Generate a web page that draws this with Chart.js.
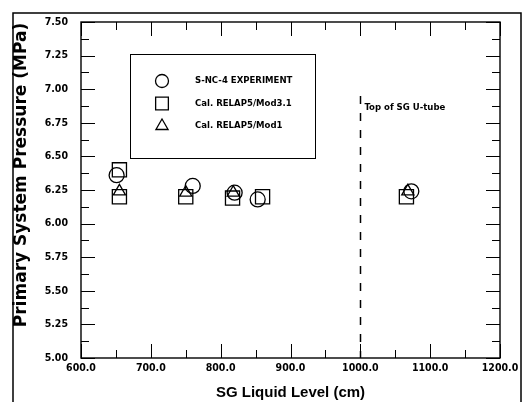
<!DOCTYPE html>
<html>
<head>
<meta charset="utf-8">
<script src="https://cdn.jsdelivr.net/npm/chart.js@4/dist/chart.umd.min.js"></script>
<style>
  html, body { margin: 0; padding: 0; background: #fff; }
  #wrap { width: 525px; height: 402px; }
</style>
</head>
<body>
<div id="wrap"><canvas id="chart" width="525" height="402"></canvas></div>
<script>
// SG liquid level (cm) vs primary pressure (MPa)
const expLevel = [651, 760, 820, 853, 1073];
const expPress = [6.36, 6.28, 6.23, 6.18, 6.24];

const mod31Level = [655, 655, 750, 817, 860, 1066];
const mod31Press = [6.40, 6.20, 6.20, 6.19, 6.20, 6.20];

const mod1Level = [655, 750, 818, 1068];
const mod1Press = [6.24, 6.23, 6.23, 6.24];

const seriesNames = ['S-NC-4 EXPERIMENT', 'Cal. RELAP5/Mod3.1', 'Cal. RELAP5/Mod1'];
const uTubeLevel = 1000;
const uTubeTop = 6.95;
const uTubeLabel = 'Top of SG U-tube';
const yTitle = 'Primary System Pressure (MPa)';

const toPoints = (xs, ys) => xs.map((x, i) => ({ x: x, y: ys[i] }));

const narrow = "'Liberation Sans Narrow', 'DejaVu Sans Condensed', Arial, sans-serif";

// frame, inward ticks, dashed line, legend box
const decor = {
    id: 'decor',
    beforeDraw(chart) {
        const ctx = chart.ctx;
        ctx.save();
        ctx.strokeStyle = '#000';
        ctx.lineWidth = 1.5;
        ctx.strokeRect(13, 13, 508, 400);
        ctx.restore();
    },
    afterDraw(chart) {
        const ctx = chart.ctx;
        const a = chart.chartArea;
        const xs = chart.scales.x, ys = chart.scales.y;
        ctx.save();
        ctx.strokeStyle = '#000';
        ctx.lineWidth = 1.4;
        ctx.strokeRect(a.left, a.top, a.right - a.left, a.bottom - a.top);

        ctx.lineWidth = 1;
        ctx.beginPath();
        for (let v = 600; v <= 1200; v += 50) {
            const px = Math.round(xs.getPixelForValue(v)) + 0.5;
            const len = v % 100 === 0 ? 14 : 8;
            ctx.moveTo(px, a.bottom); ctx.lineTo(px, a.bottom - len);
            ctx.moveTo(px, a.top); ctx.lineTo(px, a.top + len);
        }
        for (let v = 5.0; v <= 7.5001; v += 0.125) {
            const py = Math.round(ys.getPixelForValue(v)) + 0.5;
            const major = Math.abs(v / 0.25 - Math.round(v / 0.25)) < 0.01;
            const len = major ? 14 : 8;
            ctx.moveTo(a.left, py); ctx.lineTo(a.left + len, py);
            ctx.moveTo(a.right, py); ctx.lineTo(a.right - len, py);
        }
        ctx.stroke();

        // y axis title (sits a bit above centre in the original)
        ctx.save();
        ctx.translate(22, (a.top + a.bottom) / 2 - 15);
        ctx.rotate(-Math.PI / 2);
        ctx.fillStyle = '#000';
        ctx.font = "bold 17px 'DejaVu Sans', sans-serif";
        ctx.textAlign = 'center';
        ctx.textBaseline = 'middle';
        ctx.fillText(yTitle, 0, 0);
        ctx.restore();

        // U-tube top marker
        const ux = Math.round(xs.getPixelForValue(uTubeLevel)) + 0.5;
        ctx.lineWidth = 1.5;
        ctx.setLineDash([8, 9]);
        ctx.beginPath();
        ctx.moveTo(ux, ys.getPixelForValue(uTubeTop));
        ctx.lineTo(ux, a.bottom);
        ctx.stroke();
        ctx.setLineDash([]);
        ctx.fillStyle = '#000';
        ctx.font = 'bold 9.5px ' + narrow;
        ctx.textBaseline = 'middle';
        ctx.fillText(uTubeLabel, ux + 4, ys.getPixelForValue(6.86));

        // legend box
        const bx = a.left + 49, by = a.top + 32;
        ctx.lineWidth = 1;
        ctx.strokeRect(bx + 0.5, by + 0.5, 185, 104);
        const styles = ['circle', 'rect', 'triangle'];
        const radii = [6.5, 9, 7];
        ctx.lineWidth = 1.3;
        styles.forEach((s, i) => {
            const ly = by + 27 + i * 22.5;
            ctx.fillStyle = 'rgba(0,0,0,0)';
            Chart.helpers.drawPoint(ctx, { pointStyle: s, radius: radii[i], rotation: 0, borderWidth: 1.3 }, bx + 32, ly);
            ctx.fillStyle = '#000';
            ctx.fillText(seriesNames[i], bx + 65, ly);
        });
        ctx.restore();
    }
};

const common = {
    showLine: false,
    backgroundColor: 'rgba(0,0,0,0)',
    borderColor: '#000',
    pointBorderWidth: 1.3,
    pointBackgroundColor: 'rgba(0,0,0,0)',
    pointBorderColor: '#000'
};

new Chart(document.getElementById('chart'), {
    type: 'scatter',
    data: {
        datasets: [
            Object.assign({ label: seriesNames[0], data: toPoints(expLevel, expPress), pointStyle: 'circle', pointRadius: 7.5 }, common),
            Object.assign({ label: seriesNames[1], data: toPoints(mod31Level, mod31Press), pointStyle: 'rect', pointRadius: 10 }, common),
            Object.assign({ label: seriesNames[2], data: toPoints(mod1Level, mod1Press), pointStyle: 'triangle', pointRadius: 7 }, common)
        ]
    },
    options: {
        responsive: false,
        animation: false,
        layout: { padding: { left: 13, right: 25, top: 22, bottom: 0 } },
        plugins: { legend: { display: false }, tooltip: { enabled: false } },
        scales: {
            x: {
                type: 'linear',
                min: 600, max: 1200,
                grid: { display: false, drawTicks: false },
                border: { display: false },
                ticks: {
                    stepSize: 100,
                    padding: 4,
                    color: '#000',
                    font: { family: narrow, size: 10.5, weight: 'bold' },
                    callback: v => v.toFixed(1)
                },
                title: {
                    display: true,
                    text: 'SG Liquid Level (cm)',
                    color: '#000',
                    padding: { top: 5, bottom: 0 },
                    font: { family: 'Arial, Liberation Sans, sans-serif', size: 15, weight: 'bold' }
                },
                afterFit: s => { s.height = 44; }
            },
            y: {
                type: 'linear',
                min: 5.0, max: 7.5,
                grid: { display: false, drawTicks: false },
                border: { display: false },
                ticks: {
                    stepSize: 0.25,
                    padding: 13,
                    color: '#000',
                    font: { family: narrow, size: 10.5, weight: 'bold' },
                    callback: v => v.toFixed(2)
                },
                title: { display: false },
                afterFit: s => { s.width = 68; }
            }
        }
    },
    plugins: [decor]
});
</script>
</body>
</html>
